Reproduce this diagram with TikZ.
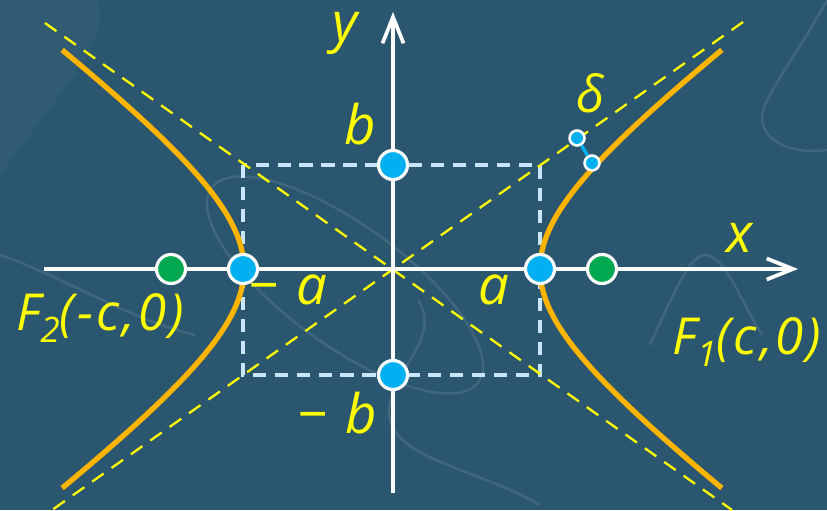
\documentclass[tikz,border=0pt]{standalone}
\usepackage{fontspec}
\setmainfont{Open Sans}
\usetikzlibrary{arrows.meta,positioning}

\definecolor{bgteal}{HTML}{2B566F}
\definecolor{hypor}{HTML}{FFB400}
\definecolor{asyel}{HTML}{FFFF00}
\definecolor{ptblue}{HTML}{00B0F0}
\definecolor{ptgreen}{HTML}{00A850}
\definecolor{rectblue}{HTML}{C8E6F8}

\begin{document}
\begin{tikzpicture}[
    x=0.02cm, y=-0.02cm,
    font=\itshape\fontsize{31}{33}\selectfont,
    axis/.style={white, line width=2.1pt, -{Straight Barb[length=15pt,width=12pt,line width=2.1pt]}},
    curve/.style={hypor, line width=3pt},
    asym/.style={asyel, line width=1.3pt, dash pattern=on 8pt off 5.5pt},
    box/.style={rectblue, line width=2.1pt, dash pattern=on 7.5pt off 5pt},
    bigdot/.style={circle, draw=white, line width=1.8pt, minimum size=16.5pt, inner sep=0pt},
    smalldot/.style={circle, draw=white, fill=ptblue, line width=1.5pt, minimum size=8.5pt, inner sep=0pt},
    lab/.style={text=asyel, inner sep=0pt},
    swirl/.style={white, opacity=0.1, line width=1.4pt}
]

% fond
\fill[bgteal] (0,0) rectangle (827,510);
\useasboundingbox (0,0) rectangle (827,510);
\fill[white, opacity=0.03] (0,0) -- (98,0) .. controls (105,25) and (95,45) .. (75,75) -- (0,175) -- cycle;
\draw[swirl, rotate around={-36:(345,285)}] (345,285) ellipse [x radius=165, y radius=60];
\draw[swirl] (827,0) .. controls (800,50) and (765,95) .. (762,115) .. controls (760,140) and (790,155) .. (827,150);
\draw[swirl] (650,345) .. controls (675,290) and (690,255) .. (705,255) .. controls (725,255) and (740,300) .. (762,335);
\draw[swirl] (418,300) .. controls (445,340) and (380,380) .. (390,420) .. controls (400,460) and (480,470) .. (540,505);
\draw[swirl] (0,255) .. controls (60,275) and (130,320) .. (195,335);

% rectangle a x b
\draw[box] (243,165) rectangle (540,375);

% asymptotes
\draw[asym] (45,23) -- (732,510);
\draw[asym] (743,22) -- (52,510);

% axes
\coordinate (xs) at (44,269);
\coordinate (xe) at (798,269);
\coordinate (ys) at (393,493);
\coordinate (ye) at (393,12);
\draw[axis] (xs) -- (xe);
\draw[axis] (ys) -- (ye);

% hyperbole
\draw[curve] plot[domain=-1.44:1.44, samples=60, variable=\t] ({392+148*cosh(\t)},{269+110*sinh(\t)});
\draw[curve] plot[domain=-1.44:1.44, samples=60, variable=\t] ({392-148*cosh(\t)},{269+110*sinh(\t)});

% points
\node[bigdot, fill=ptgreen] (F2) at (171,269) {};
\node[bigdot, fill=ptgreen] (F1) at (602,269) {};
\node[bigdot, fill=ptblue] (A2) at (243,269) {};
\node[bigdot, fill=ptblue] (A1) at (540,269) {};
\node[bigdot, fill=ptblue] (B1) at (393,165) {};
\node[bigdot, fill=ptblue] (B2) at (393,375) {};

% distance delta
\node[smalldot] (D1) at (577,138) {};
\node[smalldot] (D2) at (592,163) {};
\draw[ptblue, line width=2pt] (D1) -- (D2);

% textes
\node[lab] (ylab) at (345,33) {y};
\node[lab] (xlab) at (740,238) {x};
\node[lab] (blab) at (360,124) {b};
\node[lab] (mblab) at (337,413) {−\hspace{10pt}b};
\node[lab] (alab) at (494,290) {a};
\node[lab] (malab) at (288,290) {−\hspace{10pt}a};
\node[lab, font=\itshape\fontsize{29}{31}\selectfont\addfontfeature{LetterSpace=6}] (dlab) at (591,93) {δ};
\node[lab, font=\itshape\fontsize{29}{31}\selectfont\addfontfeature{LetterSpace=6}] (F2lab) at (100,318) {F\raisebox{-7pt}{\fontsize{20}{20}\selectfont 2}(-c,0)};
\node[lab, font=\itshape\fontsize{29}{31}\selectfont\addfontfeature{LetterSpace=6}] (F1lab) at (747,342) {F\raisebox{-7pt}{\fontsize{20}{20}\selectfont 1}(c,0)};

\end{tikzpicture}
\end{document}
